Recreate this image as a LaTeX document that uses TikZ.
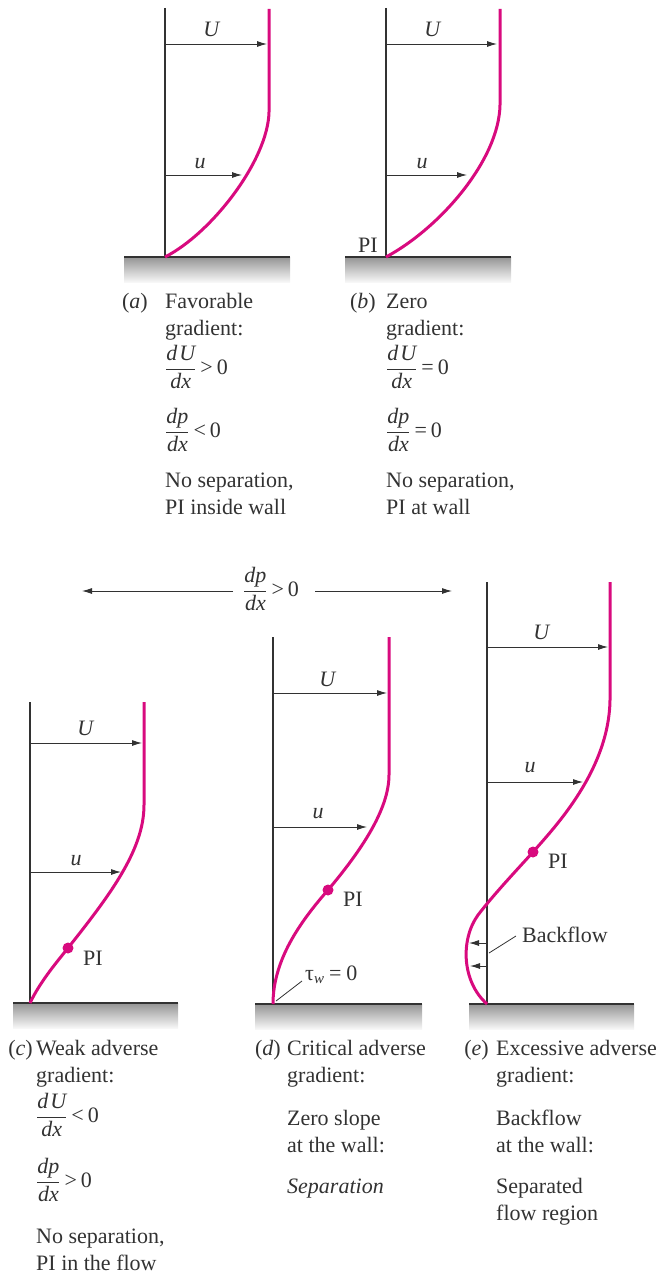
\documentclass[tikz,border=0pt]{standalone}
\usepackage{fontspec}
\setmainfont{Liberation Serif}
\usetikzlibrary{arrows.meta}
\definecolor{prof}{RGB}{216,10,126}
\definecolor{ink}{RGB}{50,50,50}
\newcommand\numstrut{\rule[-4pt]{0pt}{4pt}}
\newcommand\denstrut{\rule{0pt}{17pt}}
\newcommand\frDU{$\displaystyle\frac{\textit{d\kern2pt U}\numstrut}{\denstrut\textit{dx}}$}
\newcommand\frDP{$\displaystyle\frac{\textit{dp}\numstrut}{\denstrut\textit{dx}}$}
\newcommand\rel[1]{\kern4pt#1\kern4pt0}
\newcommand\groundbar[4]{%
  \shade[top color=black!42, bottom color=black!3] (#1,#3) rectangle (#2,#3+25);
  \draw[ground] (#1,#3) coordinate (#4a) -- (#2,#3) coordinate (#4b);}
\begin{document}
\begin{tikzpicture}[x=1pt,y=-1pt,
  every node/.style={font=\fontsize{22}{27.5}\selectfont, text=ink, inner sep=0pt},
  wall/.style={draw=ink, line width=1.1pt},
  ground/.style={draw=ink, line width=1.5pt},
  profile/.style={draw=prof, line width=3pt},
  vel/.style={draw=ink, line width=0.9pt, -{Latex[length=10pt,width=6pt]}},
  lead/.style={draw=ink, line width=0.8pt},
  dot/.style={circle, fill=prof, minimum size=11pt, inner sep=0pt},
  captxt/.style={anchor=base west},
  lbl/.style={anchor=base east}]
\useasboundingbox (0,0) rectangle (657,1279);

% ---------------- (a) ----------------
\groundbar{124}{290}{257}{ga}
\coordinate (aW0) at (165,8); \coordinate (aW1) at (165,257);
\draw[wall] (aW0) -- (aW1);
\draw[profile] (269,9) -- (269,112) .. controls (268,160) and (212,233) .. (165,257);
\coordinate (aU0) at (165,44); \coordinate (aU1) at (267,44);
\coordinate (au0) at (165,175); \coordinate (au1) at (242,175);
\draw[vel] (aU0) -- (aU1);
\draw[vel] (au0) -- (au1);
\node[anchor=base] (aUl) at (212,37) {\textit{U}};
\node[anchor=base] (aul) at (200,168) {\textit{u}};
\node[lbl] (acl) at (148,308) {(\textit{a})};
\node[captxt] (ac1) at (165,308) {Favorable};
\node[captxt] (ac2) at (165,335) {gradient:};
\node[captxt] (ac3) at (165,374.5) {\frDU\rel{>}};
\node[captxt] (ac4) at (165,437.5) {\frDP\rel{<}};
\node[captxt] (ac5) at (165,487) {No separation,};
\node[captxt] (ac6) at (165,514) {PI inside wall};

% ---------------- (b) ----------------
\groundbar{345}{511}{257}{gb}
\coordinate (bW0) at (386,8); \coordinate (bW1) at (386,257);
\draw[wall] (bW0) -- (bW1);
\draw[profile] (500,9) -- (500,105) .. controls (499,160) and (440,228) .. (386,257);
\coordinate (bU0) at (386,44); \coordinate (bU1) at (497,44);
\coordinate (bu0) at (386,175); \coordinate (bu1) at (467,175);
\draw[vel] (bU0) -- (bU1);
\draw[vel] (bu0) -- (bu1);
\node[anchor=base] (bUl) at (433,37) {\textit{U}};
\node[anchor=base] (bul) at (422,168) {\textit{u}};
\node (bPI) at (368,245) {PI};
\node[lbl] (bcl) at (376,308) {(\textit{b})};
\node[captxt] (bc1) at (386,308) {Zero};
\node[captxt] (bc2) at (386,335) {gradient:};
\node[captxt] (bc3) at (386,374.5) {\frDU\rel{=}};
\node[captxt] (bc4) at (386,437.5) {\frDP\rel{=}};
\node[captxt] (bc5) at (386,487) {No separation,};
\node[captxt] (bc6) at (386,514) {PI at wall};

% ---------------- dp/dx > 0 ----------------
\node[captxt] (mid) at (243,596.5) {\frDP\rel{>}};
\coordinate (mL0) at (233,591); \coordinate (mL1) at (82,591);
\coordinate (mR0) at (315,591); \coordinate (mR1) at (452,591);
\draw[vel] (mL0) -- (mL1);
\draw[vel] (mR0) -- (mR1);

% ---------------- (c) ----------------
\groundbar{13}{178}{1003}{gc}
\coordinate (cW0) at (30,702); \coordinate (cW1) at (30,1003);
\draw[wall] (cW0) -- (cW1);
\draw[profile] (144,702) -- (144,805) .. controls (144,850) and (110,895) .. (68,948)
  .. controls (56,963) and (40,982) .. (30,1003);
\coordinate (cU0) at (30,743); \coordinate (cU1) at (142,743);
\coordinate (cu0) at (30,872); \coordinate (cu1) at (121,872);
\draw[vel] (cU0) -- (cU1);
\draw[vel] (cu0) -- (cu1);
\node[anchor=base] (cUl) at (86,735) {\textit{U}};
\node[anchor=base] (cul) at (76,865) {\textit{u}};
\node[dot] (cdot) at (68,948) {};
\node[anchor=west] (cPI) at (83,958) {PI};
\node[lbl] (ccl) at (33,1055) {(\textit{c})};
\node[captxt] (cc1) at (36,1055) {Weak adverse};
\node[captxt] (cc2) at (36,1082) {gradient:};
\node[captxt] (cc3) at (36,1122.5) {\frDU\rel{<}};
\node[captxt] (cc4) at (36,1187.5) {\frDP\rel{>}};
\node[captxt] (cc5) at (36,1243) {No separation,};
\node[captxt] (cc6) at (36,1270) {PI in the flow};

% ---------------- (d) ----------------
\groundbar{255}{422}{1004}{gd}
\coordinate (dW0) at (273,637); \coordinate (dW1) at (273,1004);
\draw[wall] (dW0) -- (dW1);
\draw[profile] (389,637) -- (389,775) .. controls (389,810) and (360,852) .. (328,890)
  .. controls (300,922) and (273,960) .. (273,1004);
\coordinate (dU0) at (273,693); \coordinate (dU1) at (387,693);
\coordinate (du0) at (273,827); \coordinate (du1) at (367,827);
\draw[vel] (dU0) -- (dU1);
\draw[vel] (du0) -- (du1);
\node[anchor=base] (dUl) at (328,686) {\textit{U}};
\node[anchor=base] (dul) at (318,818) {\textit{u}};
\node[dot] (ddot) at (328,890) {};
\node[anchor=west] (dPI) at (343,899) {PI};
\node[captxt] (dtau) at (305,980) {τ\raisebox{-0.35ex}{\fontsize{15}{15}\selectfont\textit{w}}\kern5pt=\kern5pt0};
\coordinate (dt0) at (276,1001); \coordinate (dt1) at (302,981);
\draw[lead] (dt0) -- (dt1);
\node[lbl] (dcl) at (281,1055) {(\textit{d})};
\node[captxt] (dc1) at (287,1055) {Critical adverse};
\node[captxt] (dc2) at (287,1082) {gradient:};
\node[captxt] (dc3) at (287,1125) {Zero slope};
\node[captxt] (dc4) at (287,1152) {at the wall:};
\node[captxt] (dc5) at (287,1193) {\textit{Separation}};

% ---------------- (e) ----------------
\groundbar{469}{634}{1004}{ge}
\coordinate (eW0) at (487,582); \coordinate (eW1) at (487,1004);
\draw[wall] (eW0) -- (eW1);
\draw[profile] (610,582) -- (610,700) .. controls (609,770) and (555,827) .. (533,852)
  .. controls (515,872) and (495,893) .. (478,915) .. controls (460,940) and (462,982) .. (487,1004);
\coordinate (eU0) at (487,647); \coordinate (eU1) at (608,647);
\coordinate (eu0) at (487,782); \coordinate (eu1) at (583,782);
\draw[vel] (eU0) -- (eU1);
\draw[vel] (eu0) -- (eu1);
\node[anchor=base] (eUl) at (542,639) {\textit{U}};
\node[anchor=base] (eul) at (530,772) {\textit{u}};
\node[dot] (edot) at (533,852) {};
\node[anchor=west] (ePI) at (548,861) {PI};
\coordinate (eb10) at (487,943); \coordinate (eb11) at (469,943);
\coordinate (eb20) at (487,966); \coordinate (eb21) at (470,966);
\draw[vel] (eb10) -- (eb11);
\draw[vel] (eb20) -- (eb21);
\node[captxt] (ebf) at (522,942) {Backflow};
\coordinate (el0) at (489,953); \coordinate (el1) at (516,936);
\draw[lead] (el0) -- (el1);
\node[lbl] (ecl) at (489,1055) {(\textit{e})};
\node[captxt] (ec1) at (496,1055) {Excessive adverse};
\node[captxt] (ec2) at (496,1082) {gradient:};
\node[captxt] (ec3) at (496,1125) {Backflow};
\node[captxt] (ec4) at (496,1152) {at the wall:};
\node[captxt] (ec5) at (496,1193) {Separated};
\node[captxt] (ec6) at (496,1220) {flow region};
\end{tikzpicture}
\end{document}
